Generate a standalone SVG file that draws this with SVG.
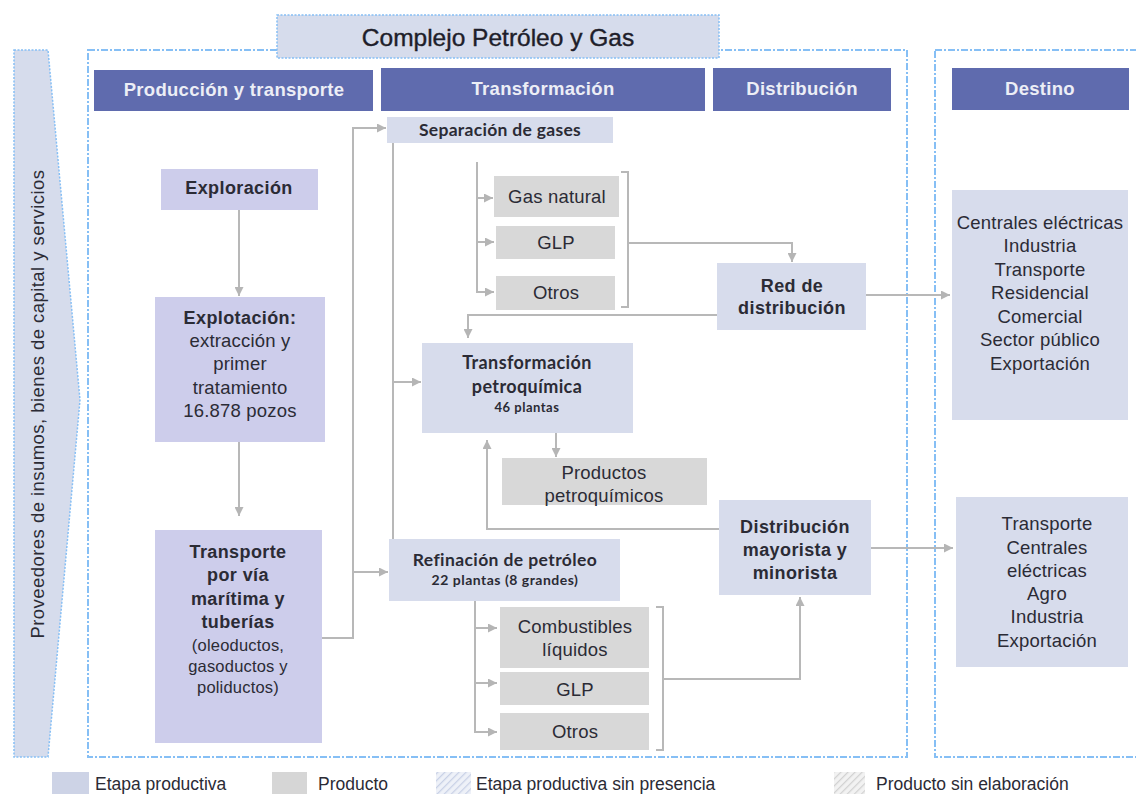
<svg xmlns="http://www.w3.org/2000/svg" width="1136" height="794" viewBox="0 0 1136 794">
<defs>
<marker id="ah" viewBox="0 0 10 10" refX="10" refY="5" markerWidth="9" markerHeight="9" markerUnits="userSpaceOnUse" orient="auto">
<path d="M0,0 L10,5 L0,10 z" fill="#b5b5b5"/>
</marker>
<pattern id="hatchBlue" patternUnits="userSpaceOnUse" width="5" height="5" patternTransform="rotate(45)">
<rect width="5" height="5" fill="#eef1f8"/>
<line x1="0" y1="0" x2="0" y2="5" stroke="#c9d1e6" stroke-width="2.5"/>
</pattern>
<pattern id="hatchGray" patternUnits="userSpaceOnUse" width="5" height="5" patternTransform="rotate(45)">
<rect width="5" height="5" fill="#f2f2f2"/>
<line x1="0" y1="0" x2="0" y2="5" stroke="#d2d2d2" stroke-width="2.5"/>
</pattern>
<style>
.frame{fill:none;stroke:#86bff5;stroke-width:2;stroke-dasharray:7 2 2 2}
.hdr{fill:#5f6bae}
.hdrt{font-family:"Liberation Sans",Arial,sans-serif;font-weight:bold;font-size:18.5px;letter-spacing:0.3px;fill:#eceef6;text-anchor:middle}
.lav{fill:#cdcdeb}
.blu{fill:#d7dcec}
.gry{fill:#d8d8d8}
.t{font-family:"Liberation Sans",Arial,sans-serif;font-size:18.5px;letter-spacing:0.2px;fill:#2b2b35;text-anchor:middle}
.tb{font-family:"Liberation Sans",Arial,sans-serif;font-size:18px;letter-spacing:0.4px;font-weight:bold;fill:#2b2b35;text-anchor:middle}
.ts{font-family:"Liberation Sans",Arial,sans-serif;font-size:16.5px;letter-spacing:0.2px;fill:#2b2b35;text-anchor:middle}
.cb{font-family:Lato,"Open Sans",sans-serif;font-weight:bold;fill:#2b2b35;text-anchor:middle}
.lg{font-family:"Liberation Sans",Arial,sans-serif;font-size:17.5px;fill:#2b2b35}
.c{fill:none;stroke:#b8b8b8;stroke-width:2}
.ca{fill:none;stroke:#b8b8b8;stroke-width:2;marker-end:url(#ah)}
</style>
</defs>

<g id="side">
<polygon points="14,50 48,50 80,400 48,757 14,757" fill="#d6dcec" stroke="#86bff5" stroke-width="1.5" stroke-dasharray="2 1.5"/>
<text x="0" y="0" transform="translate(44,404) rotate(-90)" class="t" style="font-size:18.5px;letter-spacing:0.45px">Proveedores de insumos, bienes de capital y servicios</text>
</g>

<g id="containers">
<rect x="88" y="50" width="819" height="707" class="frame"/>
<rect x="935" y="50" width="220" height="707" class="frame"/>
</g>

<g id="title">
<rect x="277" y="15" width="442" height="43" fill="#d6dcec" stroke="#86bff5" stroke-width="1.5" stroke-dasharray="2 1.5"/>
<text x="498" y="46" style="font-family:'Liberation Sans',Arial,sans-serif;font-size:24.5px;fill:#1e1e2a;stroke:#1e1e2a;stroke-width:0.4px;text-anchor:middle">Complejo Petróleo y Gas</text>
</g>

<g id="headers">
<g id="h-prod"><rect x="94" y="70" width="279" height="41" class="hdr"/><text x="234" y="96" class="hdrt">Producción y transporte</text></g>
<g id="h-trans"><rect x="381" y="68" width="324" height="43" class="hdr"/><text x="543" y="95" class="hdrt">Transformación</text></g>
<g id="h-dist"><rect x="713" y="68" width="178" height="43" class="hdr"/><text x="802" y="95" class="hdrt">Distribución</text></g>
<g id="h-dest"><rect x="952" y="68" width="177" height="42" class="hdr"/><text x="1040" y="95" class="hdrt">Destino</text></g>
</g>

<g id="connectors">
<path d="M239,210 V296" class="ca"/>
<path d="M239,442 V516" class="ca"/>
<path d="M322,638 H353 V128 H386" class="ca"/>
<path d="M353,572 H388" class="ca"/>
<path d="M393,143 V539" class="c"/>
<path d="M393,382 H421" class="ca"/>
<path d="M477,162 V292 H494" class="ca"/>
<path d="M477,198 H493" class="ca"/>
<path d="M477,242 H494" class="ca"/>
<path d="M621,172 H628 V307 H621" class="c"/>
<path d="M628,243 H792 V262" class="ca"/>
<path d="M717,315 H468 V338" class="ca"/>
<path d="M866,295 H950" class="ca"/>
<path d="M556,433 V457" class="ca"/>
<path d="M719,529 H487 V440" class="ca"/>
<path d="M871,548 H953" class="ca"/>
<path d="M475,601 V732 H497" class="ca"/>
<path d="M475,628 H497" class="ca"/>
<path d="M475,683 H497" class="ca"/>
<path d="M656,607 H663 V750 H656" class="c"/>
<path d="M663,679 H800 V597" class="ca"/>
</g>

<g id="exploracion"><rect x="161" y="169" width="157" height="41" class="lav"/><text x="239" y="194" class="tb">Exploración</text></g>

<g id="explotacion"><rect x="155" y="297" width="170" height="145" class="lav"/>
<text x="240" y="324" class="tb">Explotación:</text>
<text x="240" y="347" class="t">extracción y</text>
<text x="240" y="370" class="t">primer</text>
<text x="240" y="394" class="t">tratamiento</text>
<text x="240" y="417" class="t">16.878 pozos</text></g>

<g id="transporte"><rect x="155" y="530" width="167" height="213" class="lav"/>
<text x="238" y="558" class="tb">Transporte</text>
<text x="238" y="581" class="tb">por vía</text>
<text x="238" y="605" class="tb">marítima y</text>
<text x="238" y="628" class="tb">tuberías</text>
<text x="238" y="651" class="ts">(oleoductos,</text>
<text x="238" y="672" class="ts">gasoductos y</text>
<text x="238" y="693" class="ts">poliductos)</text></g>

<g id="separacion"><rect x="387" y="117" width="226" height="26" class="blu"/><text x="500" y="136" class="cb" font-size="17.5" letter-spacing="0.3">Separación de gases</text></g>

<g id="gas-natural"><rect x="494" y="176" width="125" height="41" class="gry"/><text x="557" y="203" class="t">Gas natural</text></g>
<g id="glp-gas"><rect x="496" y="226" width="119" height="33" class="gry"/><text x="556" y="249" class="t">GLP</text></g>
<g id="otros-gas"><rect x="496" y="276" width="119" height="34" class="gry"/><text x="556" y="299" class="t">Otros</text></g>

<g id="red-distribucion"><rect x="717" y="263" width="149" height="67" class="blu"/>
<text x="792" y="292" class="tb">Red de</text>
<text x="792" y="314" class="tb">distribución</text></g>

<g id="transformacion-petroquimica"><rect x="422" y="343" width="211" height="90" class="blu"/>
<text x="527" y="369" class="cb" font-size="18" letter-spacing="0.4">Transformación</text>
<text x="527" y="393" class="cb" font-size="18" letter-spacing="0.4">petroquímica</text>
<text x="527" y="412" class="cb" font-size="13" letter-spacing="0.5">46 plantas</text></g>

<g id="productos-petroquimicos"><rect x="502" y="458" width="205" height="47" class="gry"/>
<text x="604" y="479" class="t">Productos</text>
<text x="604" y="502" class="t">petroquímicos</text></g>

<g id="distribucion-mayorista"><rect x="719" y="500" width="152" height="95" class="blu"/>
<text x="795" y="533" class="tb">Distribución</text>
<text x="795" y="556" class="tb">mayorista y</text>
<text x="795" y="579" class="tb">minorista</text></g>

<g id="refinacion"><rect x="389" y="539" width="231" height="62" class="blu"/>
<text x="505" y="566" class="cb" font-size="17.5" letter-spacing="0.4">Refinación de petróleo</text>
<text x="505" y="585" class="cb" font-size="14" letter-spacing="0.5">22 plantas (8 grandes)</text></g>

<g id="combustibles"><rect x="500" y="607" width="149" height="61" class="gry"/>
<text x="575" y="633" class="t">Combustibles</text>
<text x="575" y="656" class="t">líquidos</text></g>
<g id="glp-ref"><rect x="500" y="672" width="149" height="33" class="gry"/><text x="575" y="696" class="t">GLP</text></g>
<g id="otros-ref"><rect x="500" y="713" width="149" height="37" class="gry"/><text x="575" y="738" class="t">Otros</text></g>

<g id="destino-1"><rect x="952" y="190" width="176" height="230" class="blu"/>
<text x="1040" y="229" class="t">Centrales eléctricas</text>
<text x="1040" y="252" class="t">Industria</text>
<text x="1040" y="276" class="t">Transporte</text>
<text x="1040" y="299" class="t">Residencial</text>
<text x="1040" y="323" class="t">Comercial</text>
<text x="1040" y="346" class="t">Sector público</text>
<text x="1040" y="370" class="t">Exportación</text></g>

<g id="destino-2"><rect x="956" y="497" width="172" height="170" class="blu"/>
<text x="1047" y="530" class="t">Transporte</text>
<text x="1047" y="554" class="t">Centrales</text>
<text x="1047" y="577" class="t">eléctricas</text>
<text x="1047" y="600" class="t">Agro</text>
<text x="1047" y="623" class="t">Industria</text>
<text x="1047" y="647" class="t">Exportación</text></g>

<g id="legend">
<rect x="52" y="772" width="37" height="22" fill="#cdd3e6"/>
<text x="95" y="790" class="lg">Etapa productiva</text>
<rect x="272" y="772" width="35" height="22" fill="#d6d6d6"/>
<text x="318" y="790" class="lg">Producto</text>
<rect x="436" y="772" width="35" height="22" fill="url(#hatchBlue)"/>
<text x="476" y="790" class="lg">Etapa productiva sin presencia</text>
<rect x="834" y="772" width="31" height="22" fill="url(#hatchGray)"/>
<text x="876" y="790" class="lg">Producto sin elaboración</text>
</g>
</svg>
